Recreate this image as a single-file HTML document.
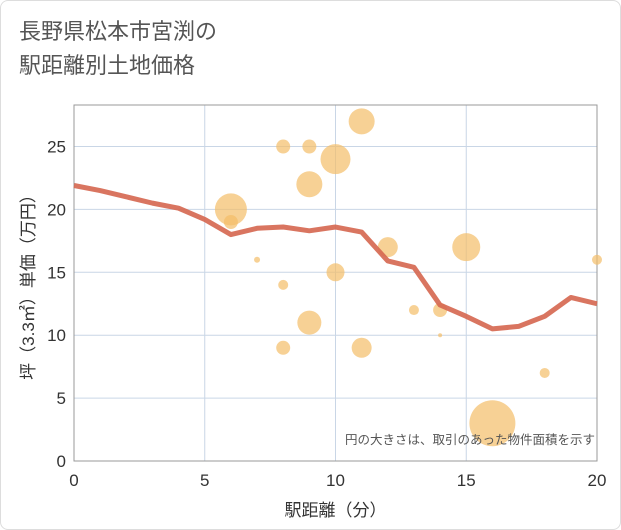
<!DOCTYPE html>
<html><head><meta charset="utf-8"><style>
body{margin:0;background:#fff;font-family:"Liberation Sans","Noto Sans CJK JP",sans-serif}
#wrap{position:relative;width:619px;height:528px;border:1px solid #ddd;border-radius:8px;overflow:hidden}
#title{position:absolute;left:18px;top:14px;font-size:22px;line-height:34px;color:#555}
</style></head><body>
<div id="wrap">
<div id="title">長野県松本市宮渕の<br>駅距離別土地価格</div>
<svg id="chart" width="621" height="530" style="position:absolute;left:0;top:0"></svg>
</div>
<script>
const lineX=[0,1,2,3,4,5,6,7,8,9,10,11,12,13,14,15,16,17,18,19,20];
const lineY=[21.9,21.5,21.0,20.5,20.1,19.2,18.0,18.5,18.6,18.3,18.6,18.2,15.9,15.4,12.4,11.5,10.5,10.7,11.5,13.0,12.5];
const bubX=[6,6,7,8,8,8,9,9,9,10,10,11,11,12,13,14,14,15,16,18,20];
const bubY=[20,19,16,25,14,9,25,22,11,24,15,27,9,17,12,12,10,17,3,7,16];
const bubR=[16,7,3,7,5,7,7,13,12,15,9,13,10,10,5,7,2,14,23,5,5];
const xTicks=[0,5,10,15,20];
const yTicks=[0,5,10,15,20,25];
const L=73,R=596,T=104,B=460,XMAX=20,YMAX=28.3;
const sx=v=>L+(R-L)*v/XMAX, sy=v=>B-(B-T)*v/YMAX;
const svg=document.getElementById('chart');const NS='http://www.w3.org/2000/svg';
function mk(t,a,p){const e=document.createElementNS(NS,t);for(const k in a)e.setAttribute(k,a[k]);(p||svg).appendChild(e);return e;}
xTicks.forEach(v=>{const g=mk('line',{x1:sx(v),x2:sx(v),y1:T,y2:B,stroke:'#c9d6e6','stroke-width':1});


const t=mk('text',{x:sx(v),y:B+25,'text-anchor':'middle','font-size':17,fill:'#333'});t.textContent=v;

});
yTicks.forEach(v=>{const g=mk('line',{x1:L,x2:R,y1:sy(v),y2:sy(v),stroke:'#c9d6e6','stroke-width':1});


const t=mk('text',{x:L-8,y:sy(v)+6,'text-anchor':'end','font-size':17,fill:'#333'});t.textContent=v;

});
const fr=mk('rect',{x:L,y:T,width:R-L,height:B-T,fill:'none',stroke:'#999','stroke-width':1});


bubX.forEach((x,i)=>{const c=mk('circle',{cx:sx(x),cy:sy(bubY[i]),r:bubR[i],fill:'#f3bd68','fill-opacity':0.7});

});
const pl=mk('polyline',{points:lineX.map((x,i)=>sx(x)+','+sy(lineY[i])).join(' '),fill:'none',stroke:'#d5664f','stroke-width':5,'stroke-opacity':0.9,'stroke-linejoin':'round'});


const note=mk('text',{x:R-2,y:B-17,'text-anchor':'end','font-size':12.5,fill:'#555'});note.textContent='円の大きさは、取引のあった物件面積を示す';


const xt=mk('text',{x:(L+R)/2,y:B+55,'text-anchor':'middle','font-size':17,fill:'#333'});xt.textContent='駅距離（分）';


const yt=mk('text',{x:0,y:0,'text-anchor':'middle','font-size':17,fill:'#333',transform:`translate(33,${(T+B)/2}) rotate(-90)`});yt.textContent='坪（3.3㎡）単価（万円）';


</script>
</body></html>
